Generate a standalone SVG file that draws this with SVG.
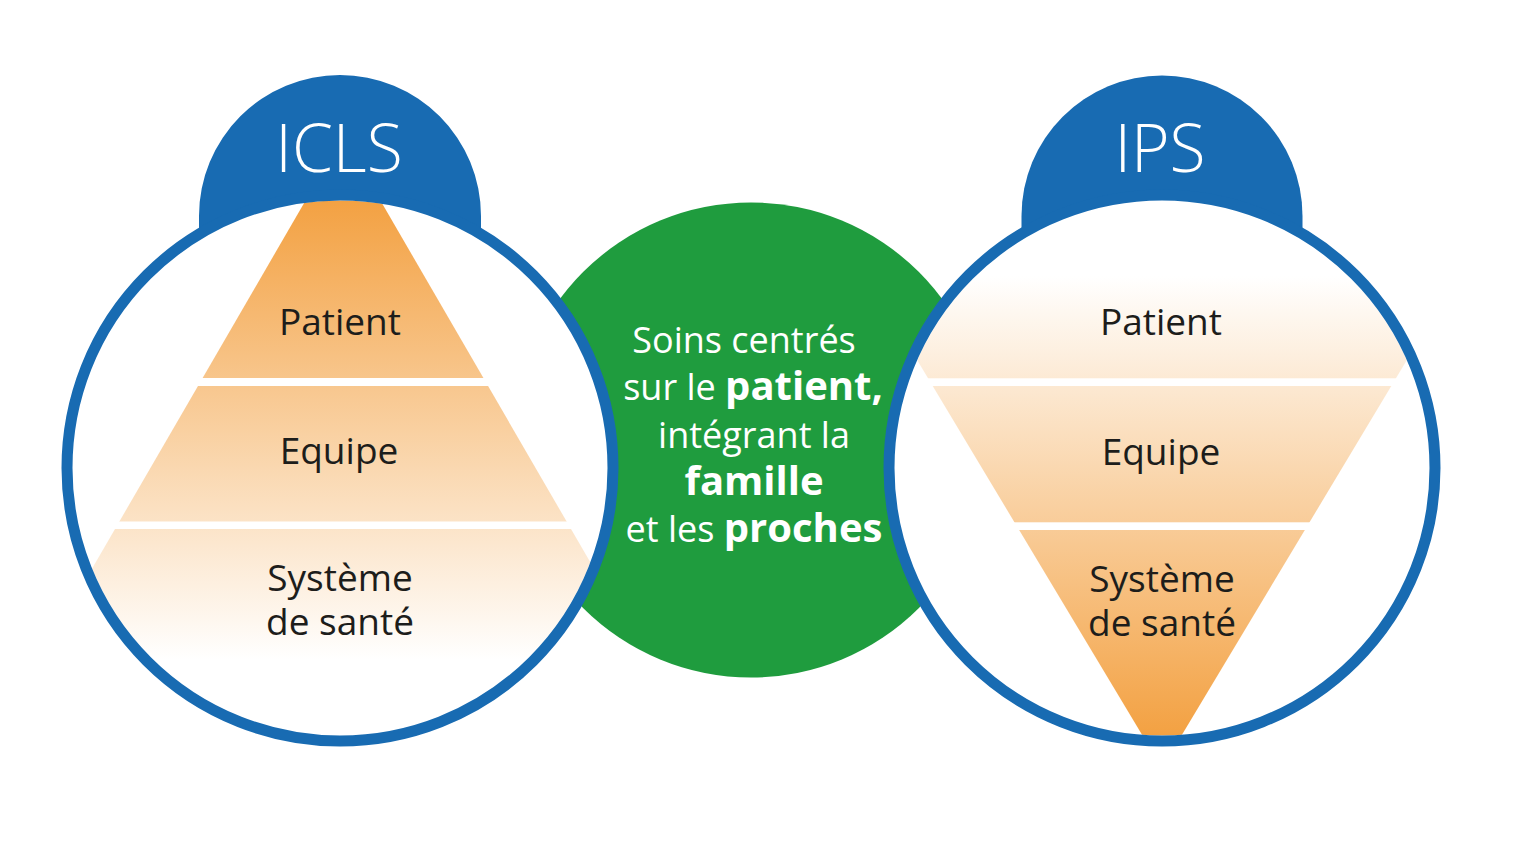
<svg xmlns="http://www.w3.org/2000/svg" width="1535" height="859" viewBox="0 0 1535 859">
  <style>
    .ring { fill: none; stroke: #186BB2; stroke-width: 11; }
    .disc { fill: #FFFFFF; }
    .cap { fill: #186BB2; }
    .title { font-family: "Open Sans", "Liberation Sans", sans-serif; font-weight: 300; font-size: 66px; fill: #FFFFFF; text-anchor: middle; }
    .label { font-family: "Open Sans", "Liberation Sans", sans-serif; font-size: 37px; fill: #1D1D1B; text-anchor: middle; }
    .ctext { font-family: "Open Sans", "Liberation Sans", sans-serif; font-size: 36px; fill: #FFFFFF; text-anchor: middle; }
    .b { font-weight: 700; font-size: 40px; }
    .gap { fill: #FFFFFF; }
  </style>
  <defs>
    <linearGradient id="gradUp" gradientUnits="userSpaceOnUse" x1="0" y1="200" x2="0" y2="660">
      <stop offset="0" stop-color="#F3A142"/>
      <stop offset="1" stop-color="#FFFFFF"/>
    </linearGradient>
    <linearGradient id="gradDown" gradientUnits="userSpaceOnUse" x1="0" y1="276" x2="0" y2="736">
      <stop offset="0" stop-color="#FFFFFF"/>
      <stop offset="1" stop-color="#F3A142"/>
    </linearGradient>
    <clipPath id="clipL"><circle cx="340" cy="468" r="267.5"/></clipPath>
    <clipPath id="clipR"><circle cx="1162" cy="468" r="267.5"/></clipPath>
  </defs>
  <rect width="1535" height="859" fill="#FFFFFF"/>

  <g id="connectors"/>

  <g id="centre">
    <circle cx="751" cy="440" r="237.5" fill="#1F9C3E"/>
  </g>

  <g id="icls">
    <path class="cap" d="M199 216 A141 141 0 0 1 481 216 L481 250 L199 250 Z"/>
    <circle class="disc" cx="340" cy="468" r="273"/>
    <g clip-path="url(#clipL)">
      <polygon points="343,136 -19,760 705,760" fill="url(#gradUp)"/>
      <rect class="gap" x="60" y="378" width="560" height="8"/>
      <rect class="gap" x="60" y="521.5" width="560" height="7.5"/>
    </g>
    <circle class="ring" cx="340" cy="468" r="273"/>
    <text class="title" x="339" y="172">ICLS</text>
    <text class="label" x="340" y="335">Patient</text>
    <text class="label" x="339" y="464">Equipe</text>
    <text class="label" x="340" y="591">Système<tspan x="340" dy="44">de santé</tspan></text>
  </g>

  <g id="ips">
    <path class="cap" d="M1021.5 216 A140.5 140.5 0 0 1 1302.5 216 L1302.5 250 L1021.5 250 Z"/>
    <circle class="disc" cx="1162" cy="468" r="273"/>
    <g clip-path="url(#clipR)">
      <polygon points="791,150 1533,150 1162,768" fill="url(#gradDown)"/>
      <rect class="gap" x="880" y="378.3" width="565" height="7.7"/>
      <rect class="gap" x="880" y="522.3" width="565" height="7.7"/>
    </g>
    <circle class="ring" cx="1162" cy="468" r="273"/>
    <text class="title" x="1160" y="172">IPS</text>
    <text class="label" x="1161" y="335">Patient</text>
    <text class="label" x="1161" y="465">Equipe</text>
    <text class="label" x="1162" y="592">Système<tspan x="1162" dy="44">de santé</tspan></text>
  </g>

  <g id="centre-text">
    <text class="ctext" x="744" y="353">Soins centrés<tspan x="753" dy="47">sur le <tspan class="b">patient,</tspan></tspan><tspan x="754" dy="48">intégrant la</tspan><tspan x="754" dy="47" class="b">famille</tspan><tspan x="754" dy="47">et les <tspan class="b">proches</tspan></tspan></text>
  </g>
</svg>
